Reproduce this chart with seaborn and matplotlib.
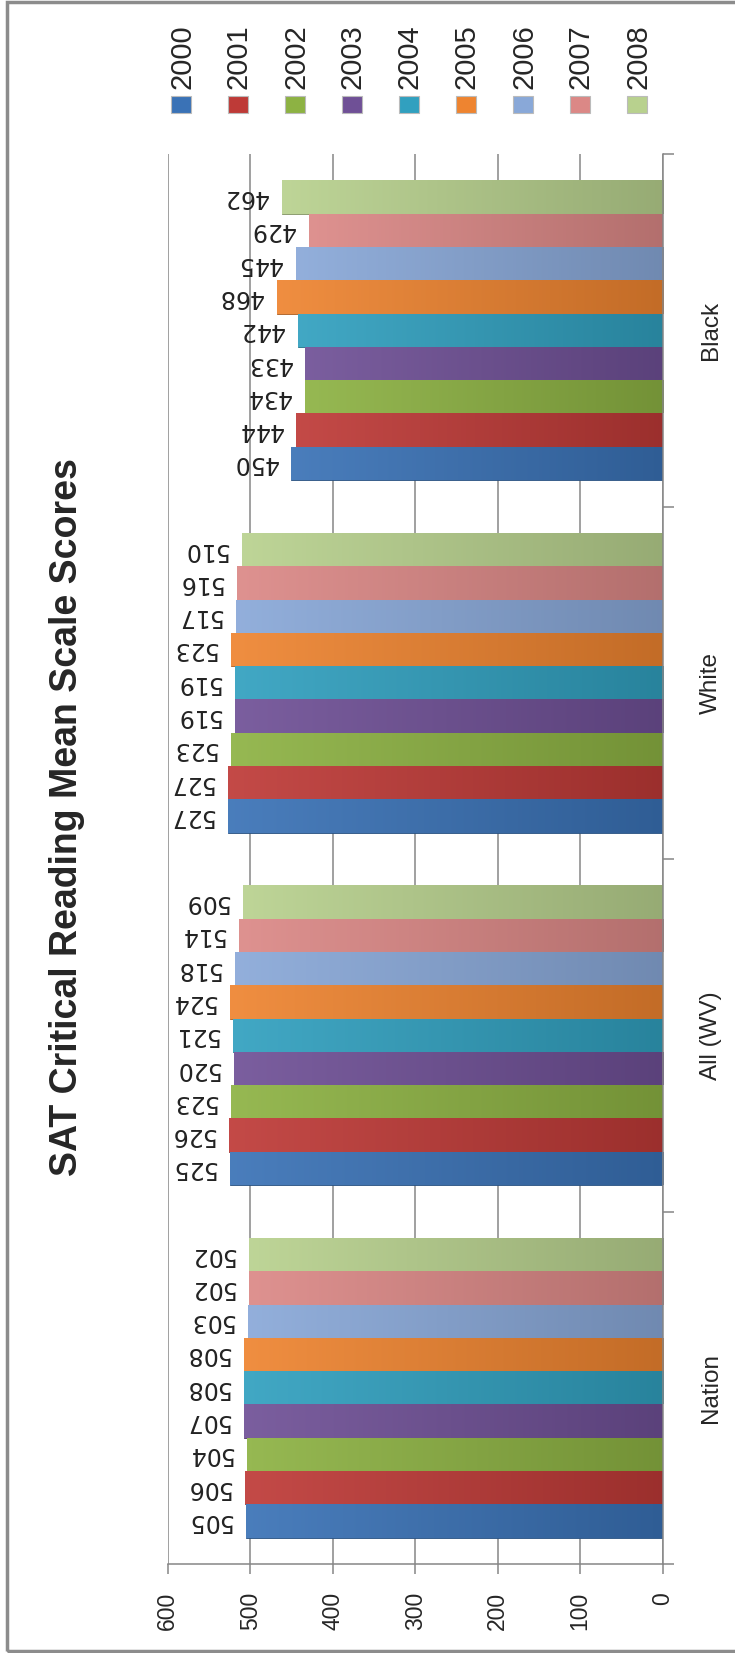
"""
SAT Critical Reading Mean Scale Scores
Rotated (sideways) clustered bar chart, redrawn with seaborn.
"""

import numpy as np
import pandas as pd
import matplotlib
matplotlib.use("Agg")
import matplotlib.pyplot as plt
from matplotlib.patches import Rectangle
from matplotlib.colors import to_rgb
import seaborn as sns

# ─────────────────────────────────────────
# Data
# ─────────────────────────────────────────
groups = ["Nation", "All (WV)", "White", "Black"]
years = ["2000", "2001", "2002", "2003", "2004", "2005", "2006", "2007", "2008"]

nation = [505, 506, 504, 507, 508, 508, 503, 502, 502]
all_wv = [525, 526, 523, 520, 521, 524, 518, 514, 509]
white = [527, 527, 523, 519, 519, 523, 517, 516, 510]
black = [450, 444, 434, 433, 442, 468, 445, 429, 462]

value_ticks = [0, 100, 200, 300, 400, 500, 600]

colors = ["#3A72B6", "#BE3A37", "#8DB243", "#6F5096", "#31A0BF",
          "#EE8430", "#89A8D8", "#DB8886", "#B8D18E"]

title = "SAT Critical Reading Mean Scale Scores"

# ─────────────────────────────────────────
# Build frame
# ─────────────────────────────────────────
rows = []
for g, vals in zip(groups, [nation, all_wv, white, black]):
    for y, v in zip(years, vals):
        rows.append({"group": g, "year": y, "score": v})
df = pd.DataFrame(rows)

sns.set_style("white")
plt.rcParams["font.family"] = ["Liberation Sans", "DejaVu Sans"]

W, H = 735, 1653
fig = plt.figure(figsize=(W / 100, H / 100), dpi=100)

x0, x1 = 167.7, 662.7
y_top, y_bot = 154, 1564
ax = fig.add_axes([x0 / W, 1 - y_bot / H, (x1 - x0) / W, (y_bot - y_top) / H])

sns.barplot(
    data=df, y="group", x="score", hue="year", orient="h",
    order=groups, hue_order=years, palette=colors,
    width=0.85, gap=0, saturation=1, legend=False, ax=ax,
    edgecolor="none",
)

# soft gradient on each bar (lighter at the tip, darker near zero)
for p in list(ax.patches):
    base = np.array(to_rgb(p.get_facecolor()))
    light = base + (1 - base) * 0.08
    dark = base * 0.82
    t = np.linspace(0, 1, 64)[None, :, None]
    grad = dark * (1 - t) + light * t
    xb, yb, wb, hb = p.get_x(), p.get_y(), p.get_width(), p.get_height()
    im = ax.imshow(grad, extent=[xb, xb + wb, yb, yb + hb], aspect="auto",
                   origin="lower", zorder=p.get_zorder() + 0.1, interpolation="bilinear")
    im.set_clip_path(p)
    p.set_edgecolor(tuple(base * 0.7))
    p.set_linewidth(0.6)

# 0 on the right, Nation at the bottom, 2000 lowest in each group
ax.set_xlim(600, 0)
ax.set_ylim(-0.5, 3.5)

grey = "#868686"
ax.set_xticks(value_ticks)
ax.set_xticklabels([str(v) for v in value_ticks], rotation=90, fontsize=16.5)
ax.xaxis.grid(True, color=grey, lw=1.1)
ax.yaxis.grid(False)
ax.set_axisbelow(True)
ax.tick_params(axis="x", direction="out", length=7, width=1.1, color=grey, pad=13,
               bottom=True)

ax.yaxis.tick_right()
ax.set_yticks(range(len(groups)))
ax.set_yticklabels(groups, rotation=90, fontsize=17.5, va="center")
ax.set_yticks([-0.5, 0.5, 1.5, 2.5, 3.5], minor=True)
ax.tick_params(axis="y", which="major", length=0, pad=27)
ax.tick_params(axis="y", which="minor", direction="out", length=8, width=1.1, color=grey,
               right=True, left=False)

ax.set_xlabel("")
ax.set_ylabel("")
for side in ["top", "left"]:
    ax.spines[side].set_visible(False)
for side in ["bottom", "right"]:
    ax.spines[side].set_color(grey)
    ax.spines[side].set_linewidth(1.1)

# data labels (upside-down like the source)
for cont in ax.containers:
    ax.bar_label(cont, fmt="%d", rotation=180, padding=10, fontsize=17,
                 family="DejaVu Sans", color="#222222")

# title
fig.text(67 / W, 1 - 817 / H, title, rotation=90, ha="center", va="center",
         fontsize=27, fontweight="bold")

# legend, drawn sideways
for i, (yr, c) in enumerate(zip(years, colors)):
    cx = 182 + 57 * i
    fig.text(cx / W, 1 - 89 / H, yr, rotation=90, ha="center", va="bottom",
             fontsize=21)
    fig.patches.append(Rectangle(((cx - 11) / W, 1 - 113 / H), 20 / W, 17 / H,
                                 transform=fig.transFigure, facecolor=c,
                                 edgecolor="#bbbbbb", lw=0.8))

# outer frame
fig.patches.append(Rectangle((7 / W, 2 / H), 1.0, 1 - 4 / H, transform=fig.transFigure,
                             fill=False, edgecolor="#8c8c8c", lw=2.5))

plt.savefig("out.png", dpi=100)
